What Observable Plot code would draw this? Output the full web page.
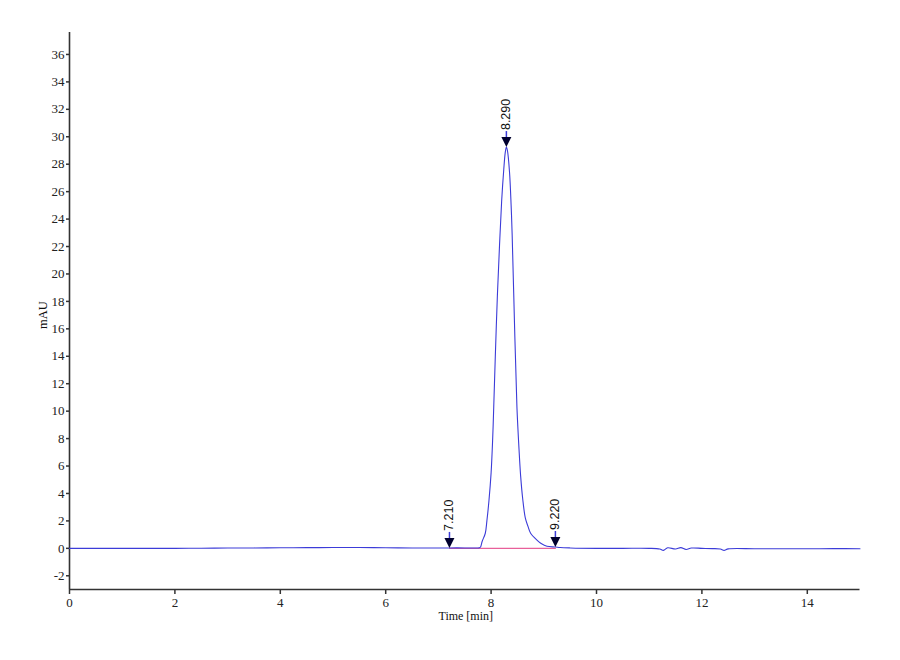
<!DOCTYPE html>
<html>
<head>
<meta charset="utf-8">
<script src="https://cdn.jsdelivr.net/npm/d3@7"></script>
<script src="https://cdn.jsdelivr.net/npm/@observablehq/plot@0.6"></script>
<style>
  html, body { margin: 0; padding: 0; background: #ffffff; }
  #chart { width: 900px; height: 660px; }
</style>
</head>
<body>
<div id="chart"></div>
<script>
// ---- Data ----
const time = [0, 0.5, 1, 1.5, 2, 2.5, 3, 3.5, 4, 4.5, 5, 5.5, 6, 6.5, 7, 7.21, 7.5, 7.7,
  7.78, 7.80, 7.83, 7.89, 7.92, 7.96, 8.00, 8.03, 8.05, 8.08, 8.12, 8.16, 8.20, 8.24, 8.27, 8.29,
  8.31, 8.35, 8.38, 8.40, 8.45, 8.49, 8.53, 8.56, 8.60, 8.65, 8.70, 8.75, 8.87, 8.95, 9.06,
  9.22, 9.31, 9.5, 10, 10.5, 11, 11.2, 11.27, 11.35, 11.5, 11.6, 11.7, 11.8, 12, 12.2, 12.35,
  12.42, 12.5, 13, 13.5, 14, 14.5, 15];
const absorbance = [0, 0, 0, 0, 0, 0.01, 0.02, 0.03, 0.04, 0.05, 0.06, 0.06, 0.04, 0.03, 0.02, 0.03, 0.03, 0.03,
  0.04, 0.1, 0.5, 1.1, 2.0, 3.5, 5.5, 8.0, 10.3, 14.0, 18.5, 22.1, 25.3, 27.6, 28.9, 29.25,
  29.0, 27.4, 25.0, 22.8, 15.5, 10.3, 7.2, 5.3, 3.6, 2.2, 1.6, 1.1, 0.6, 0.35, 0.15,
  0.1, 0.06, 0.03, 0.0, 0.0, 0.0, -0.05, -0.15, 0.04, -0.05, 0.05, -0.08, 0.02, 0.0, -0.02, -0.05,
  -0.15, -0.04, -0.03, -0.03, -0.03, -0.02, -0.03];

const peakTimes = [7.21, 8.29, 9.22];
const peakValues = [0.03, 29.25, 0.1];
const peakLabels = ["7.210", "8.290", "9.220"];

const baselineStart = 7.21;
const baselineEnd = 9.22;

const xTicks = [0, 2, 4, 6, 8, 10, 12, 14];
const yTicks = [-2, 0, 2, 4, 6, 8, 10, 12, 14, 16, 18, 20, 22, 24, 26, 28, 30, 32, 34, 36];

const xLabel = "Time [min]";
const yLabel = "mAU";

// ---- Tables built from the arrays ----
const trace = time.map((t, i) => ({t, v: absorbance[i]}));
const peaks = peakTimes.map((t, i) => ({t, v: peakValues[i], label: peakLabels[i]}));
const baseline = [{t: baselineStart, v: 0}, {t: baselineEnd, v: 0}];

// custom symbols: downward triangle with tip at the data point, and a short stem above it
const downTriangle = {
  draw(ctx) {
    ctx.moveTo(0, 0);
    ctx.lineTo(-5, -10);
    ctx.lineTo(5, -10);
    ctx.closePath();
  }
};
const stem = {
  draw(ctx) {
    ctx.moveTo(0, -9);
    ctx.lineTo(0, -16);
  }
};

const axisColor = "#333333";
const blue = "#3c3cd8";

const chart = Plot.plot({
  width: 900,
  height: 660,
  marginLeft: 69,
  marginRight: 40.5,
  marginTop: 32,
  marginBottom: 71,
  x: {domain: [0, 15]},
  y: {domain: [-3, 37.6]},
  style: {background: "#ffffff", fontFamily: "'Liberation Serif', serif", color: "#222"},
  marks: [
    Plot.axisY({ticks: yTicks, tickSize: 3, tickPadding: 2, tickFormat: d => String(d),
      label: null, fontSize: 13, stroke: axisColor, strokeWidth: 1.5}),
    Plot.axisX({ticks: xTicks, tickSize: 5, tickPadding: 3, tickFormat: d => String(d),
      label: null, fontSize: 13, stroke: axisColor, strokeWidth: 1.5}),
    Plot.ruleX([0], {stroke: axisColor, strokeWidth: 1.6}),
    Plot.ruleY([-3], {stroke: axisColor, strokeWidth: 1.6}),
    Plot.line(baseline, {x: "t", y: "v", stroke: "#e8609a", strokeWidth: 1.2}),
    Plot.line(trace, {x: "t", y: "v", stroke: blue, strokeWidth: 1.1, curve: "catmull-rom"}),
    Plot.dot(peaks, {x: "t", y: "v", symbol: stem, stroke: blue, fill: "none", strokeWidth: 1.5}),
    Plot.dot(peaks, {x: "t", y: "v", symbol: downTriangle, fill: "#00002e", stroke: "none"}),
    Plot.text(peaks, {x: "t", y: "v", text: "label", rotate: -90, textAnchor: "start", dy: -17,
      fontSize: 12.5, fontFamily: "'Liberation Sans', Arial, sans-serif", fill: "#111"}),
    Plot.text([yLabel], {frameAnchor: "left", dx: -27, dy: 18, rotate: -90, fontSize: 12.5, fill: "#111"}),
    Plot.text([xLabel], {frameAnchor: "bottom", dx: 1, dy: 30, fontSize: 12, fill: "#111"})
  ]
});

document.getElementById("chart").appendChild(chart);
</script>
</body>
</html>
